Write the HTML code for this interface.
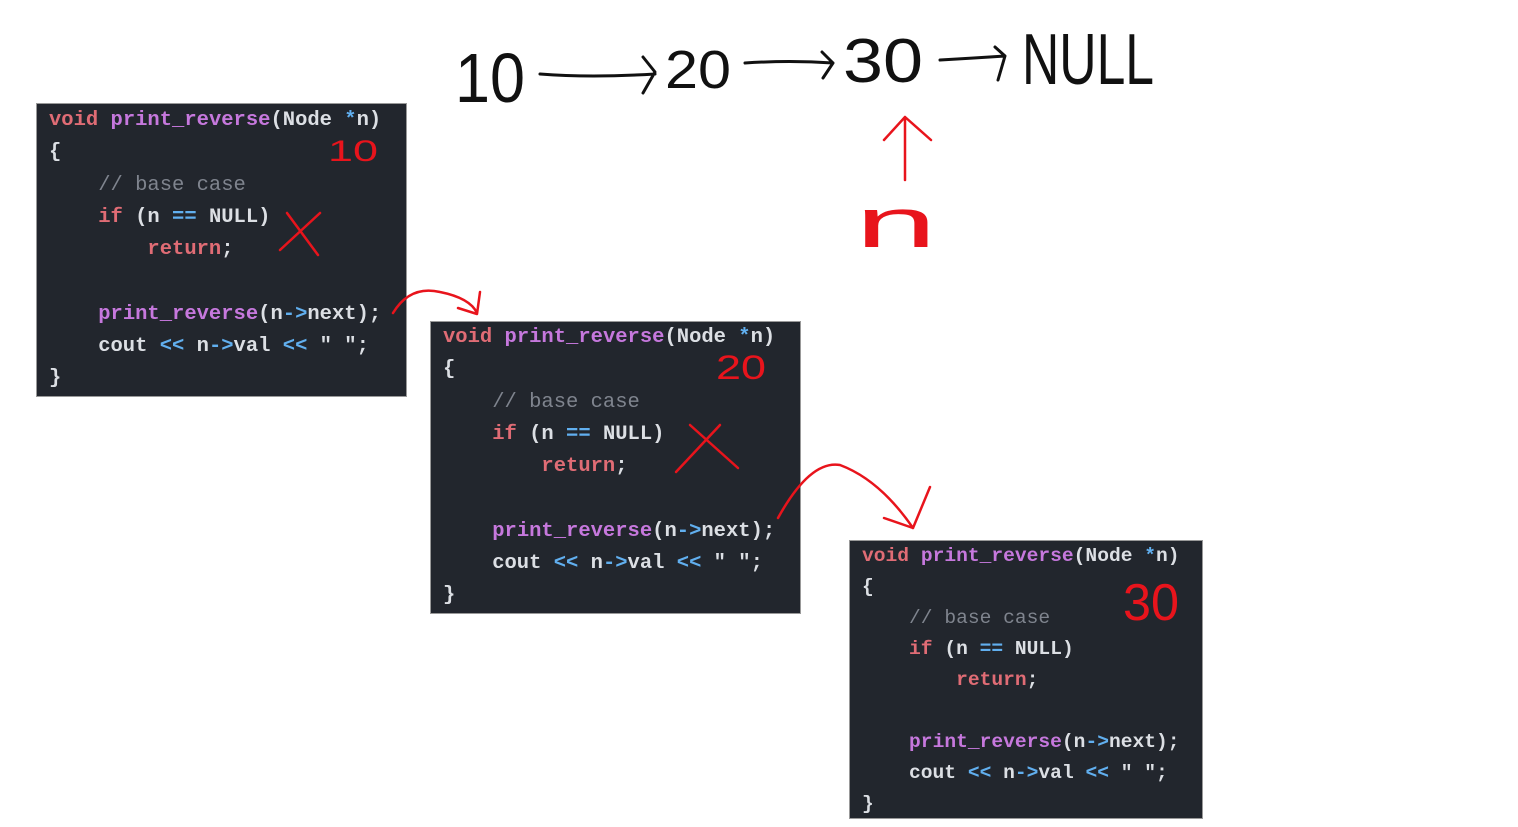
<!DOCTYPE html>
<html><head><meta charset="utf-8"><style>
body{margin:0;width:1518px;height:827px;background:#fff;position:relative;overflow:hidden}
.box{position:absolute;background:#22262d;border:1px solid #999}
.box pre{margin:0;font-family:"Liberation Mono",monospace;font-weight:bold;color:#dcdfe4;white-space:pre}
.k{color:#e06c75}.f{color:#c678dd}.o{color:#61afef}.c{color:#7f848e;font-weight:normal}.r{color:#e06c75}
svg{position:absolute;left:0;top:0}
</style></head><body>
<div class="box" style="left:36px;top:103px;width:369px;height:292px">
<pre style="font-size:20.5px;line-height:32.3px;padding:0 0 0 12px;margin-top:1px"><span class="k">void</span> <span class="f">print_reverse</span>(Node <span class="o">*</span>n)
{
    <span class="c">// base case</span>
    <span class="k">if</span> (n <span class="o">==</span> NULL)
        <span class="r">return</span>;

    <span class="f">print_reverse</span>(n<span class="o">-&gt;</span>next);
    cout <span class="o">&lt;&lt;</span> n<span class="o">-&gt;</span>val <span class="o">&lt;&lt;</span> " ";
}</pre></div>
<div class="box" style="left:430px;top:321px;width:369px;height:291px">
<pre style="font-size:20.5px;line-height:32.3px;padding:0 0 0 12px;margin-top:0px"><span class="k">void</span> <span class="f">print_reverse</span>(Node <span class="o">*</span>n)
{
    <span class="c">// base case</span>
    <span class="k">if</span> (n <span class="o">==</span> NULL)
        <span class="r">return</span>;

    <span class="f">print_reverse</span>(n<span class="o">-&gt;</span>next);
    cout <span class="o">&lt;&lt;</span> n<span class="o">-&gt;</span>val <span class="o">&lt;&lt;</span> " ";
}</pre></div>
<div class="box" style="left:849px;top:540px;width:352px;height:277px">
<pre style="font-size:19.6px;line-height:31px;padding:0 0 0 12px;margin-top:0px"><span class="k">void</span> <span class="f">print_reverse</span>(Node <span class="o">*</span>n)
{
    <span class="c">// base case</span>
    <span class="k">if</span> (n <span class="o">==</span> NULL)
        <span class="r">return</span>;

    <span class="f">print_reverse</span>(n<span class="o">-&gt;</span>next);
    cout <span class="o">&lt;&lt;</span> n<span class="o">-&gt;</span>val <span class="o">&lt;&lt;</span> " ";
}</pre></div>
<svg width="1518" height="827" viewBox="0 0 1518 827" fill="none" stroke-linecap="round" stroke-linejoin="round">
<g font-family="Liberation Sans, sans-serif" font-weight="normal">
<text x="455" y="102" font-size="70" fill="#111" textLength="70" lengthAdjust="spacingAndGlyphs">10</text>
<text x="665" y="88" font-size="54" fill="#111" textLength="66" lengthAdjust="spacingAndGlyphs">20</text>
<text x="843" y="82" font-size="62" fill="#111" textLength="80" lengthAdjust="spacingAndGlyphs">30</text>
<text x="1022" y="84" font-size="72" fill="#111" textLength="132" lengthAdjust="spacingAndGlyphs">NULL</text>
<text x="855" y="247" font-size="70" fill="#e8141c" textLength="82" lengthAdjust="spacingAndGlyphs">n</text>
<text x="328" y="161" font-size="30" fill="#e8141c" textLength="50" lengthAdjust="spacingAndGlyphs">10</text>
<text x="716" y="379" font-size="34" fill="#e8141c" textLength="50" lengthAdjust="spacingAndGlyphs">20</text>
<text x="1123" y="620" font-size="52" fill="#e8141c" textLength="56" lengthAdjust="spacingAndGlyphs">30</text>
</g>
<g stroke="#111" stroke-width="3">
<path d="M540 74 Q590 78 655 74 M643 57 L655 72 L643 93"/>
<path d="M745 63 Q790 60 833 63 M822 52 L833 63 L823 78"/>
<path d="M940 60 Q975 58 1005 56 M995 47 L1005 56 L998 80"/>
</g>
<g stroke="#e8141c" stroke-width="2.5">
<path d="M905 180 L905 117 M884 140 L905 117 L931 140"/>
<path d="M280 250 L320 213 M287 213 L318 255"/>
<path d="M676 472 L720 425 M690 425 L738 468"/>
<path d="M393 313 Q410 285 440 292 Q470 298 477 313 M458 308 L477 314 L480 292"/>
<path d="M778 518 Q810 460 840 465 Q880 480 913 528 M884 518 L913 528 L930 487"/>
</g>
</svg>
</body></html>
